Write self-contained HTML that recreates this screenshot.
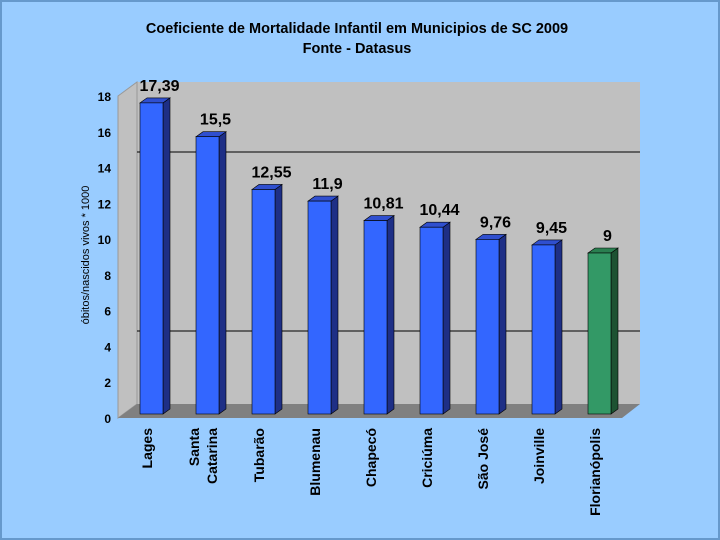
<!DOCTYPE html>
<html><head><meta charset="utf-8"><style>
body{margin:0;background:#99ccff;}
svg{display:block;font-family:"Liberation Sans",sans-serif;}
</style></head><body>
<svg width="720" height="540" viewBox="0 0 720 540">
<rect x="0" y="0" width="720" height="540" fill="#99ccff" stroke="#6699cc" stroke-width="4"/>
<text x="357" y="33" text-anchor="middle" font-size="14.5" font-weight="bold">Coeficiente de Mortalidade Infantil em Municipios de SC 2009</text>
<text x="357" y="53" text-anchor="middle" font-size="14.5" font-weight="bold">Fonte - Datasus</text>
<polygon points="137,82 640,82 640,404 137,404" fill="#c0c0c0"/>
<polygon points="118,96 137,82 137,404 118,418" fill="#c0c0c0" stroke="#999" stroke-width="1"/>
<polygon points="118,418 137,404 640,404 622,418" fill="#808080"/>
<line x1="137" y1="152" x2="640" y2="152" stroke="#000"/>
<line x1="137" y1="331" x2="640" y2="331" stroke="#000"/>
<text transform="translate(89,255) rotate(-90)" text-anchor="middle" font-size="11">óbitos/nascidos vivos * 1000</text>
<g id="ticks"></g>
<g id="bars"></g>
<g id="cats"></g>
</svg>
<script>
const categories=["Lages","Santa|Catarina","Tubarão","Blumenau","Chapecó","Criciúma","São José","Joinville","Florianópolis"];
const values=[17.39,15.5,12.55,11.9,10.81,10.44,9.76,9.45,9];
const valueLabels=["17,39","15,5","12,55","11,9","10,81","10,44","9,76","9,45","9"];
const tickValues=[0,2,4,6,8,10,12,14,16,18];
const NS="http://www.w3.org/2000/svg";
function yFront(v){return 418-v*17.89;}
function yBar(v){return 414-v*17.89;}
function xBar(i){return 140+i*56;}
function mk(tag,attrs,parent){const e=document.createElementNS(NS,tag);for(const k in attrs)e.setAttribute(k,attrs[k]);parent.appendChild(e);return e;}
const tg=document.getElementById('ticks');
tickValues.forEach(t=>{
 const tx=mk('text',{x:111,y:yFront(t)+5,'text-anchor':'end','font-size':'12','font-weight':'bold'},tg);
 tx.textContent=t;
 
 
});
const bg=document.getElementById('bars');
values.forEach((v,i)=>{
 const x=xBar(i),w=23,d=7,dy=5,top=yBar(v),bot=414;
 const green=i===8;
 const g=mk('g',{},bg);
 
 
 mk('polygon',{points:`${x+w},${top} ${x+w+d},${top-dy} ${x+w+d},${bot-dy} ${x+w},${bot}`,fill:green?'#1d5232':'#1e2f86',stroke:'#000','stroke-width':0.6},g);
 mk('polygon',{points:`${x},${top} ${x+d},${top-dy} ${x+w+d},${top-dy} ${x+w},${top}`,fill:green?'#2a7f50':'#2f4fcf',stroke:'#000','stroke-width':0.6},g);
 mk('rect',{x:x,y:top,width:w,height:bot-top,fill:green?'#339966':'#3366ff',stroke:'#000','stroke-width':0.6},g);
 const lb=mk('text',{x:x+w/2+8,y:top-12,'text-anchor':'middle','font-size':'16','font-weight':'bold'},bg);
 lb.textContent=valueLabels[i];
 
 
});
const cg=document.getElementById('cats');
categories.forEach((c,i)=>{
 const parts=c.split('|');
 const cx=xBar(i)+12;
 parts.forEach((p,j)=>{
  const off=(j-(parts.length-1)/2)*18;
  const t=mk('text',{transform:`translate(${cx+off},428) rotate(-90)`,'text-anchor':'end','font-size':'14','font-weight':'bold'},cg);
  t.textContent=p;
  
  
 });
});
</script>
</body></html>
